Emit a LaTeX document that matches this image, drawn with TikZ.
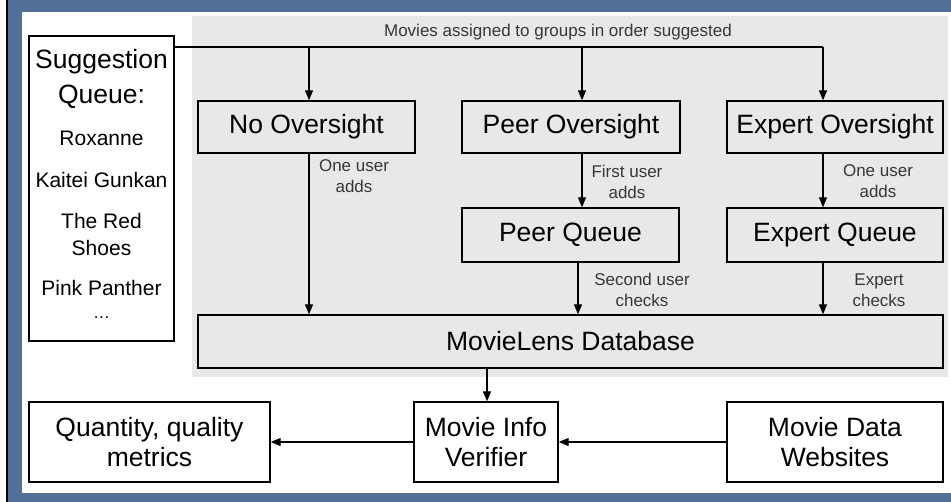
\documentclass[tikz,border=0pt]{standalone}
\usepackage{fontspec}
\setmainfont{Liberation Sans}
\usetikzlibrary{arrows.meta}
\definecolor{slideblue}{RGB}{80,112,152}
\definecolor{panelgray}{RGB}{232,232,232}
\definecolor{notegray}{RGB}{55,55,55}

\begin{document}
\begin{tikzpicture}[x=1pt, y=-1pt,
    box/.style={draw, line width=1.4pt, inner sep=0pt, align=center,
      font=\fontsize{26.5}{30}\selectfont},
    item/.style={inner sep=0pt, align=center, font=\fontsize{21}{27}\selectfont},
    note/.style={inner sep=0pt, align=center, text=notegray,
      font=\fontsize{17}{21}\selectfont},
    flow/.style={line width=1.3pt, -{Triangle[length=10pt,width=8pt]}}]

    % slide frame and grey panel
    \useasboundingbox (0,0) rectangle (951,502);
    \fill[white] (0,0) rectangle (951,502);
    \fill[slideblue] (7,0) rectangle (951,502);
    \draw[line width=2pt] (7,0) -- (7,502);
    \fill[white] (22,12) rectangle (951,493);
    \fill[panelgray] (192,16) rectangle (948,377);

    % suggestion queue
    \node[box, fill=white, minimum width=145pt, minimum height=305pt] (sugg) at (101.5,188.5) {};
    \node[item, font=\fontsize{26.5}{35}\selectfont] (qtitle) at (101.5,78.5) {Suggestion\\Queue:};
    \node[item] (roxanne) at (101.5,138) {Roxanne};
    \node[item] (kaitei) at (101.5,180) {Kaitei Gunkan};
    \node[item] (redshoes) at (101.5,234.5) {The Red\\Shoes};
    \node[item] (pink) at (101.5,288) {Pink Panther};
    \node[item, font=\fontsize{17}{21}\selectfont] (more) at (101.5,318) {\ldots};

    % oversight groups
    \node[box, fill=panelgray, minimum width=217pt, minimum height=52pt] (noov) at (306.5,127) {No Oversight};
    \node[box, fill=panelgray, minimum width=218pt, minimum height=52pt] (peerov) at (571,127) {Peer Oversight};
    \node[box, fill=panelgray, minimum width=216pt, minimum height=52pt] (expov) at (835,127) {Expert Oversight};
    \node[box, fill=panelgray, minimum width=217pt, minimum height=54pt] (peerq) at (570.5,235) {Peer Queue};
    \node[box, fill=panelgray, minimum width=216pt, minimum height=54pt] (expq) at (835,235) {Expert Queue};
    \node[box, fill=panelgray, minimum width=745pt, minimum height=53pt] (db) at (570.5,341.5) {MovieLens Database};

    % bottom row
    \node[box, fill=white, minimum width=241pt, minimum height=80pt] (metrics) at (149.5,442) {Quantity, quality\\metrics};
    \node[box, fill=white, minimum width=144pt, minimum height=80pt] (verif) at (486,442) {Movie Info\\Verifier};
    \node[box, fill=white, minimum width=216pt, minimum height=80pt] (websites) at (835,442) {Movie Data\\Websites};

    % branch points
    \coordinate (nobr) at (309,47);
    \coordinate (peerbr) at (582,47);
    \coordinate (expbr) at (823,47);
    \coordinate (dbout) at (487,368);

    \draw[line width=1.3pt] (sugg.east |- expbr) -- (expbr);
    \draw[flow] (nobr) -- (nobr |- noov.north);
    \draw[flow] (peerbr) -- (peerbr |- peerov.north);
    \draw[flow] (expbr) -- (expbr |- expov.north);
    \draw[flow] (nobr |- noov.south) -- (nobr |- db.north);
    \draw[flow] (peerbr |- peerov.south) -- (peerbr |- peerq.north);
    \draw[flow] ([xshift=-4pt]peerbr |- peerq.south) -- ([xshift=-4pt]peerbr |- db.north);
    \draw[flow] (expbr |- expov.south) -- (expbr |- expq.north);
    \draw[flow] (expbr |- expq.south) -- (expbr |- db.north);
    \draw[flow] (dbout) -- (dbout |- verif.north);
    \draw[flow] (websites) -- (verif);
    \draw[flow] (verif) -- (metrics);

    % notes
    \node[note] (assign) at (558,32) {Movies assigned to groups in order suggested};
    \node[note] (noadds) at (354,176.5) {One user\\adds};
    \node[note] (peeradds) at (627,181.5) {First user\\adds};
    \node[note] (expadds) at (878,181.5) {One user\\adds};
    \node[note] (peerchk) at (642,290) {Second user\\checks};
    \node[note] (expchk) at (879,290) {Expert\\checks};
\end{tikzpicture}
\end{document}
